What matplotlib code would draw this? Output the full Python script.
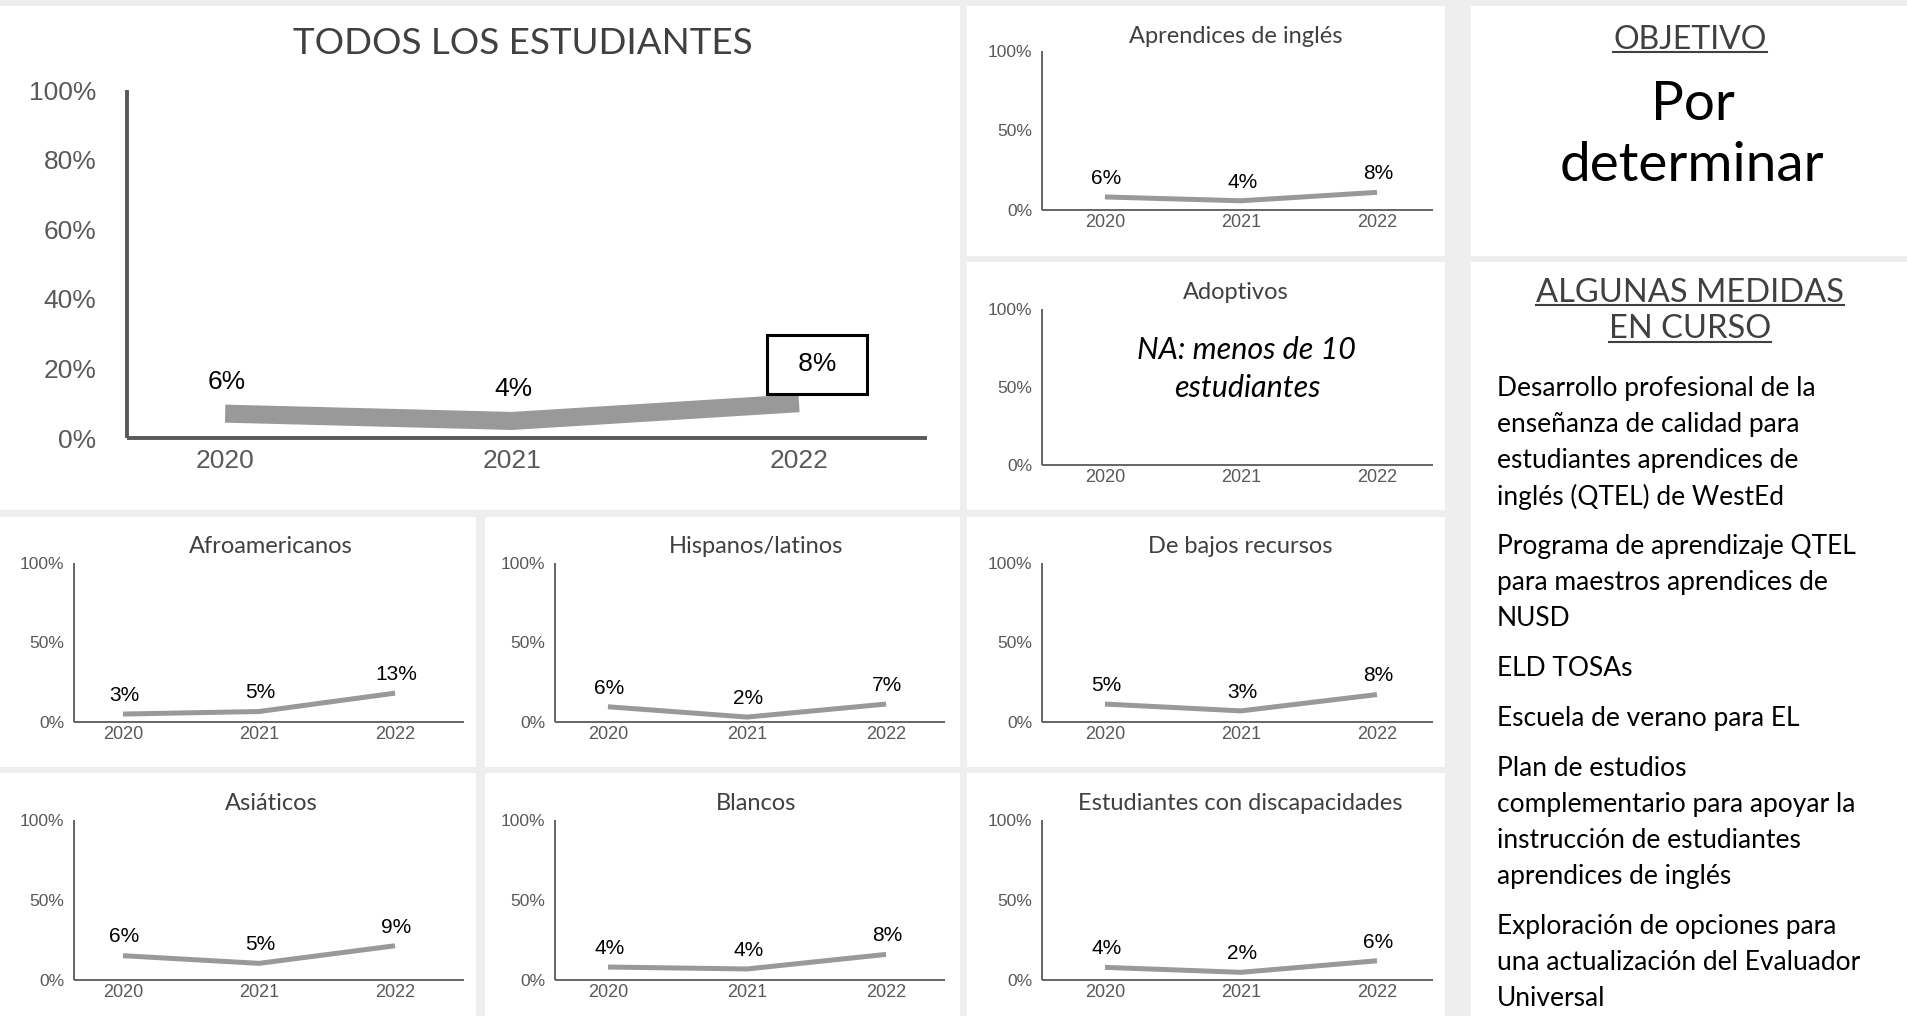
import matplotlib
matplotlib.use('Agg')
import matplotlib.pyplot as plt
from matplotlib.patches import Rectangle
from matplotlib.lines import Line2D

W, H = 1908, 1016
SANS = ['Lato', 'DejaVu Sans']
ARIAL = ['Liberation Sans', 'DejaVu Sans']

# ---------------- data ----------------
years = ['2020', '2021', '2022']

all_title = 'TODOS LOS ESTUDIANTES'
all_line = [7.0, 4.9, 10.0]          # plotted line heights (%)
all_labels = ['6%', '4%', '8%']      # data labels shown

aprend_line = [8.2, 5.8, 11.1]
aprend_labels = ['6%', '4%', '8%']

afro_line = [4.7, 6.3, 17.9]
afro_labels = ['3%', '5%', '13%']

hisp_line = [9.3, 2.8, 11.0]
hisp_labels = ['6%', '2%', '7%']

bajos_line = [11.0, 6.7, 17.0]
bajos_labels = ['5%', '3%', '8%']

asiat_line = [15.2, 10.4, 21.4]
asiat_labels = ['6%', '5%', '9%']

blancos_line = [8.1, 6.9, 16.0]
blancos_labels = ['4%', '4%', '8%']

discap_line = [7.9, 4.8, 12.0]
discap_labels = ['4%', '2%', '6%']

small_ticks = [0, 50, 100]
small_ticklabels = ['0%', '50%', '100%']
main_ticks = [0, 20, 40, 60, 80, 100]
main_ticklabels = ['0%', '20%', '40%', '60%', '80%', '100%']

na_text = 'NA: menos de 10\nestudiantes'
objetivo_head = 'OBJETIVO'
objetivo_lines = ['Por', 'determinar']
medidas_head = ['ALGUNAS MEDIDAS', 'EN CURSO']
medidas_items = [
    ['Desarrollo profesional de la', 'enseñanza de calidad para',
     'estudiantes aprendices de', 'inglés (QTEL) de WestEd'],
    ['Programa de aprendizaje QTEL', 'para maestros aprendices de', 'NUSD'],
    ['ELD TOSAs'],
    ['Escuela de verano para EL'],
    ['Plan de estudios', 'complementario para apoyar la',
     'instrucción de estudiantes', 'aprendices de inglés'],
    ['Exploración de opciones para', 'una actualización del Evaluador',
     'Universal'],
]

# ---------------- helpers ----------------
LINE_C = '#999999'
AXIS_C = '#595959'
TICK_C = '#595959'
TITLE_C = '#404040'


def fx(x):
    return x / W


def fy(y):
    return 1 - y / H


fig = plt.figure(figsize=(W / 100, H / 100), dpi=100)
fig.patch.set_facecolor('#EEEEEE')


def panel(x0, y0, x1, y1):
    fig.add_artist(Rectangle((fx(x0), fy(y1)), fx(x1) - fx(x0), fy(y0) - fy(y1),
                             transform=fig.transFigure, facecolor='white',
                             edgecolor='none', zorder=0))


def make_axes(left, right, top, bottom, xlim, ticks, ticklabels, tfs, xfs,
              spine_w, ypad, xpad):
    ax = fig.add_axes([fx(left), fy(bottom), fx(right) - fx(left), fy(top) - fy(bottom)])
    ax.set_facecolor('none')
    ax.set_xlim(*xlim)
    ax.set_ylim(0, 100)
    for s in ['top', 'right']:
        ax.spines[s].set_visible(False)
    for s in ['left', 'bottom']:
        ax.spines[s].set_color(AXIS_C)
        ax.spines[s].set_linewidth(spine_w)
        ax.spines[s].set_capstyle('butt')
    ax.set_yticks(ticks)
    ax.set_yticklabels(ticklabels, fontfamily=ARIAL, fontsize=tfs, color=TICK_C)
    ax.set_xticks(range(len(years)))
    ax.set_xticklabels(years, fontfamily=ARIAL, fontsize=xfs, color=TICK_C)
    ax.tick_params(axis='y', length=0, pad=ypad)
    ax.tick_params(axis='x', length=0, pad=xpad)
    return ax


# ---------------- panels ----------------
panel(0, 6, 960, 510)        # main
panel(967, 6, 1445, 256)     # aprendices
panel(967, 262, 1445, 510)   # adoptivos
panel(1471, 6, 1908, 256)    # objetivo
panel(1471, 262, 1908, 1016) # medidas
panel(0, 517, 476, 767)
panel(485, 517, 960, 767)
panel(967, 517, 1445, 767)
panel(0, 773, 476, 1016)
panel(485, 773, 960, 1016)
panel(967, 773, 1445, 1016)

# ---------------- main chart ----------------
ax = make_axes(127, 927, 90, 438, (-0.342, 2.446), main_ticks, main_ticklabels,
               19, 19, 2.8, 22, 8)
ax.plot(range(3), all_line, color=LINE_C, lw=13, solid_capstyle='butt',
        solid_joinstyle='miter', clip_on=False)
for i, (v, lab) in enumerate(zip(all_line, all_labels)):
    if i == 2:
        ax.annotate('\u2002' + lab + '\u2002', xy=(i, v), xytext=(13, 28),
                    textcoords='offset points', ha='center', va='center', fontsize=19,
                    fontfamily=ARIAL, color='black',
                    bbox=dict(boxstyle='square,pad=0.66', facecolor='white',
                              edgecolor='black', linewidth=2.2))
    else:
        ax.annotate(lab, xy=(i, v), xytext=(1, 23), textcoords='offset points',
                    ha='center', va='center', fontsize=19, fontfamily=ARIAL, color='black')
fig.text(fx(523), fy(44), all_title, ha='center', va='center', fontsize=26.5,
         fontfamily=SANS, color=TITLE_C)

# ---------------- small charts ----------------
col_x = {
    1: (74, 464, (-0.36, 2.507)),
    2: (555, 945, (-0.381, 2.424)),
    3: (1042, 1433, (-0.463, 2.412)),
}
row_y = {
    'r1': (51, 210),
    'ad': (309, 465),
    'r2': (563, 721.5),
    'r3': (820, 980),
}

small = [
    ('Aprendices de inglés', 3, 'r1', (1236, 36.5), aprend_line, aprend_labels),
    ('Adoptivos', 3, 'ad', (1236, 292.5), None, None),
    ('Afroamericanos', 1, 'r2', (271, 546.5), afro_line, afro_labels),
    ('Hispanos/latinos', 2, 'r2', (756, 546.5), hisp_line, hisp_labels),
    ('De bajos recursos', 3, 'r2', (1240, 546.5), bajos_line, bajos_labels),
    ('Asiáticos', 1, 'r3', (271, 803.5), asiat_line, asiat_labels),
    ('Blancos', 2, 'r3', (756, 803.5), blancos_line, blancos_labels),
    ('Estudiantes con discapacidades', 3, 'r3', (1240, 803.5), discap_line, discap_labels),
]

for title, col, row, tpos, vals, labs in small:
    l, r, xl = col_x[col]
    t, b = row_y[row]
    ax = make_axes(l, r, t, b, xl, small_ticks, small_ticklabels, 12.5, 13,
                   1.3, 7, 3)
    if vals is not None:
        ax.plot(range(3), vals, color=LINE_C, lw=3.6, solid_capstyle='butt',
                clip_on=False)
        for i, (v, lab) in enumerate(zip(vals, labs)):
            ax.annotate(lab, xy=(i, v), xytext=(1, 13.5), textcoords='offset points',
                        ha='center', va='center', fontsize=15, fontfamily=ARIAL,
                        color='black')
    else:
        fig.text(fx(1247), fy(369), na_text, ha='center', va='center', fontsize=22,
                 fontfamily=SANS, fontstyle='italic', color='black', linespacing=1.4)
    fig.text(fx(tpos[0]), fy(tpos[1]), title, ha='center', va='center', fontsize=17,
             fontfamily=SANS, color=TITLE_C)

# ---------------- right column ----------------
underlined = []
underlined.append(fig.text(fx(1690), fy(40), objetivo_head, ha='center', va='center',
                           fontsize=23, fontfamily=SANS, color=TITLE_C))
fig.text(fx(1693), fy(104), objetivo_lines[0], ha='center', va='center', fontsize=39.5,
         fontfamily=SANS, color='black')
fig.text(fx(1692), fy(166), objetivo_lines[1], ha='center', va='center', fontsize=39.5,
         fontfamily=SANS, color='black')
underlined.append(fig.text(fx(1690), fy(292.5), medidas_head[0], ha='center', va='center',
                           fontsize=23.5, fontfamily=SANS, color=TITLE_C))
underlined.append(fig.text(fx(1690), fy(329.5), medidas_head[1], ha='center', va='center',
                           fontsize=23.5, fontfamily=SANS, color=TITLE_C))

y = 388.5
for item in medidas_items:
    for line in item:
        fig.text(fx(1497), fy(y), line, ha='left', va='center', fontsize=19,
                 fontfamily=SANS, color='black')
        y += 36
    y += 14

fig.canvas.draw()
ren = fig.canvas.get_renderer()
for t in underlined:
    bb = t.get_window_extent(ren)
    yy = (bb.y0 + 3) / fig.bbox.height
    fig.add_artist(Line2D([bb.x0 / fig.bbox.width, bb.x1 / fig.bbox.width], [yy, yy],
                          transform=fig.transFigure, color=TITLE_C, lw=1.5))

fig.savefig('out.png', dpi=100, facecolor=fig.get_facecolor())
